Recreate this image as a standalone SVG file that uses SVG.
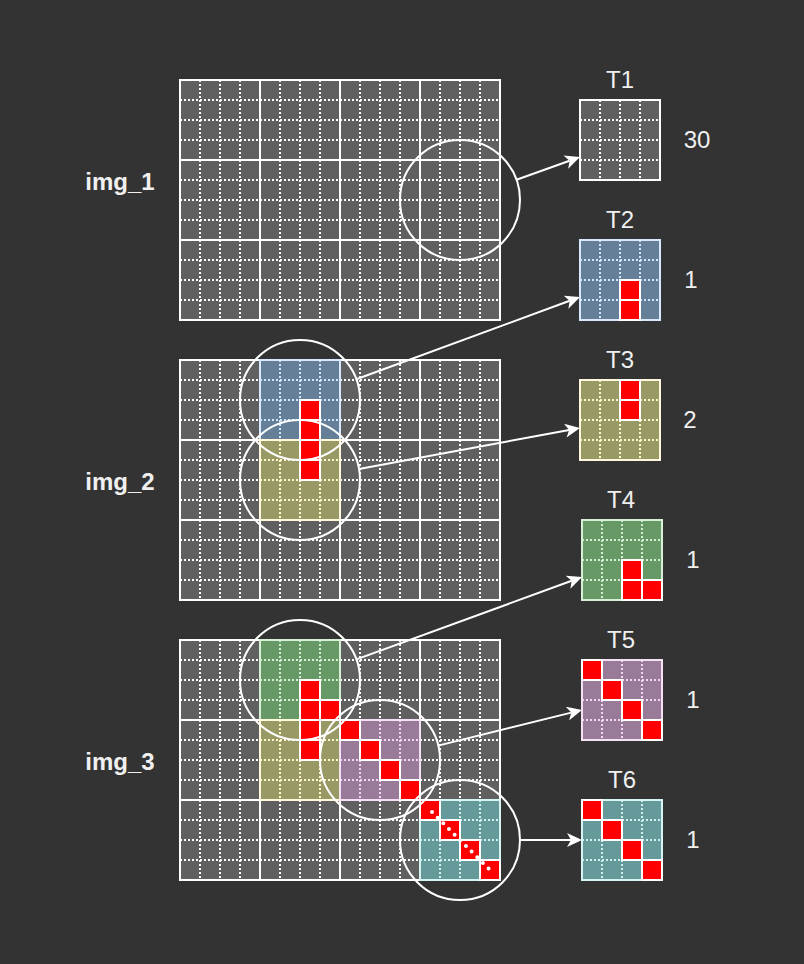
<svg xmlns="http://www.w3.org/2000/svg" xmlns:xlink="http://www.w3.org/1999/xlink" width="804" height="964" viewBox="0 0 804 964">
<style>
.dot{fill:none;stroke-width:2;stroke-dasharray:2 2}
.bd{fill:none;stroke-width:2}
.lbl{font-family:"Liberation Sans",Arial,Helvetica,sans-serif;font-size:24px;fill:#f0f0f0;text-anchor:middle}
.b{font-weight:bold}
.cir{fill:none;stroke:#fff;stroke-width:2}
.red{fill:#ff0000;stroke:#fff;stroke-width:2}
.edge{fill:none;stroke:#fff;stroke-width:2;marker-end:url(#arr)}
.diag{fill:none;stroke:#fff;stroke-width:4;stroke-linecap:round;stroke-dasharray:0 8}
</style>
<defs>
<marker id="arr" markerUnits="userSpaceOnUse" markerWidth="15" markerHeight="14" viewBox="0 0 15 14" refX="4" refY="7" orient="auto">
<path d="M0,0L15,7L0,14L4,7Z" fill="#fff"/>
</marker>
<path id="gl" d="M20,0V80M40,0V80M60,0V80M0,20H80M0,40H80M0,60H80"/>
<g id="t-grey"><rect width="80" height="80" fill="#606060"/><use xlink:href="#gl" class="dot" stroke="#ffffff"/><rect width="80" height="80" class="bd" stroke="#ffffff"/></g>
<g id="t-blue"><rect width="80" height="80" fill="#657f99"/><use xlink:href="#gl" class="dot" stroke="#d4e6fb"/><rect width="80" height="80" class="bd" stroke="#dae8fc"/></g>
<g id="t-yellow"><rect width="80" height="80" fill="#999966"/><use xlink:href="#gl" class="dot" stroke="#fff6d0"/><rect width="80" height="80" class="bd" stroke="#fff8dc"/></g>
<g id="t-green"><rect width="80" height="80" fill="#669966"/><use xlink:href="#gl" class="dot" stroke="#d5efd4"/><rect width="80" height="80" class="bd" stroke="#d8f0d6"/></g>
<g id="t-purple"><rect width="80" height="80" fill="#997a99"/><use xlink:href="#gl" class="dot" stroke="#f4d8f2"/><rect width="80" height="80" class="bd" stroke="#f6e0f4"/></g>
<g id="t-teal"><rect width="80" height="80" fill="#669999"/><use xlink:href="#gl" class="dot" stroke="#cff2f2"/><rect width="80" height="80" class="bd" stroke="#d6f4f4"/></g>
<rect id="rc" width="20" height="20"/>
</defs>
<rect width="804" height="964" fill="#333333"/>

<g id="img_1-grid">
<use xlink:href="#t-grey" x="180" y="80"/><use xlink:href="#t-grey" x="260" y="80"/><use xlink:href="#t-grey" x="340" y="80"/><use xlink:href="#t-grey" x="420" y="80"/>
<use xlink:href="#t-grey" x="180" y="160"/><use xlink:href="#t-grey" x="260" y="160"/><use xlink:href="#t-grey" x="340" y="160"/><use xlink:href="#t-grey" x="420" y="160"/>
<use xlink:href="#t-grey" x="180" y="240"/><use xlink:href="#t-grey" x="260" y="240"/><use xlink:href="#t-grey" x="340" y="240"/><use xlink:href="#t-grey" x="420" y="240"/>
</g>

<g id="img_2-grid">
<use xlink:href="#t-grey" x="180" y="360"/><use xlink:href="#t-grey" x="340" y="360"/><use xlink:href="#t-grey" x="420" y="360"/>
<use xlink:href="#t-grey" x="180" y="440"/><use xlink:href="#t-grey" x="340" y="440"/><use xlink:href="#t-grey" x="420" y="440"/>
<use xlink:href="#t-grey" x="180" y="520"/><use xlink:href="#t-grey" x="260" y="520"/><use xlink:href="#t-grey" x="340" y="520"/><use xlink:href="#t-grey" x="420" y="520"/>
<use xlink:href="#t-blue" x="260" y="360"/>
<use xlink:href="#t-yellow" x="260" y="440"/>
<g class="red">
<use xlink:href="#rc" x="300" y="400"/><use xlink:href="#rc" x="300" y="420"/><use xlink:href="#rc" x="300" y="440"/><use xlink:href="#rc" x="300" y="460"/>
</g>
</g>

<g id="img_3-grid">
<use xlink:href="#t-grey" x="180" y="640"/><use xlink:href="#t-grey" x="340" y="640"/><use xlink:href="#t-grey" x="420" y="640"/>
<use xlink:href="#t-grey" x="180" y="720"/><use xlink:href="#t-grey" x="420" y="720"/>
<use xlink:href="#t-grey" x="180" y="800"/><use xlink:href="#t-grey" x="260" y="800"/><use xlink:href="#t-grey" x="340" y="800"/>
<use xlink:href="#t-green" x="260" y="640"/>
<use xlink:href="#t-yellow" x="260" y="720"/>
<use xlink:href="#t-purple" x="340" y="720"/>
<use xlink:href="#t-teal" x="420" y="800"/>
<g class="red">
<use xlink:href="#rc" x="300" y="680"/><use xlink:href="#rc" x="300" y="700"/><use xlink:href="#rc" x="320" y="700"/><use xlink:href="#rc" x="300" y="720"/><use xlink:href="#rc" x="300" y="740"/>
<use xlink:href="#rc" x="340" y="720"/><use xlink:href="#rc" x="360" y="740"/><use xlink:href="#rc" x="380" y="760"/><use xlink:href="#rc" x="400" y="780"/>
<use xlink:href="#rc" x="420" y="800"/><use xlink:href="#rc" x="440" y="820"/><use xlink:href="#rc" x="460" y="840"/><use xlink:href="#rc" x="480" y="860"/>
</g>
<line class="diag" x1="432" y1="812" x2="489" y2="869"/>
</g>

<g id="circle-1"><circle class="cir" cx="460" cy="200" r="60"/></g>
<g id="circle-2"><circle class="cir" cx="300" cy="400" r="60"/></g>
<g id="circle-3"><circle class="cir" cx="300" cy="480" r="60"/></g>
<g id="circle-4"><circle class="cir" cx="300" cy="680" r="60"/></g>
<g id="circle-5"><circle class="cir" cx="380" cy="760" r="60"/></g>
<g id="circle-6"><circle class="cir" cx="460" cy="840" r="60"/></g>

<g id="connectors">
<line class="edge" x1="516.5" y1="179.8" x2="569.6" y2="160.7"/>
<line class="edge" x1="356.3" y1="379.3" x2="569.7" y2="300.8"/>
<line class="edge" x1="359" y1="469" x2="569.2" y2="430"/>
<line class="edge" x1="356.4" y1="659.4" x2="571.7" y2="580.8"/>
<line class="edge" x1="438.2" y1="745.6" x2="571.3" y2="712.6"/>
<line class="edge" x1="520" y1="840" x2="571" y2="840"/>
</g>

<g id="T1"><use xlink:href="#t-grey" x="580" y="100"/><text class="lbl" x="620" y="88">T1</text><text class="lbl" x="697" y="148">30</text></g>
<g id="T2"><use xlink:href="#t-blue" x="580" y="240"/><g class="red"><use xlink:href="#rc" x="620" y="280"/><use xlink:href="#rc" x="620" y="300"/></g><text class="lbl" x="620" y="228">T2</text><text class="lbl" x="691" y="288">1</text></g>
<g id="T3"><use xlink:href="#t-yellow" x="580" y="380"/><g class="red"><use xlink:href="#rc" x="620" y="380"/><use xlink:href="#rc" x="620" y="400"/></g><text class="lbl" x="620" y="368">T3</text><text class="lbl" x="690" y="428">2</text></g>
<g id="T4"><use xlink:href="#t-green" x="582" y="520"/><g class="red"><use xlink:href="#rc" x="622" y="560"/><use xlink:href="#rc" x="622" y="580"/><use xlink:href="#rc" x="642" y="580"/></g><text class="lbl" x="621" y="508">T4</text><text class="lbl" x="693" y="568">1</text></g>
<g id="T5"><use xlink:href="#t-purple" x="582" y="660"/><g class="red"><use xlink:href="#rc" x="582" y="660"/><use xlink:href="#rc" x="602" y="680"/><use xlink:href="#rc" x="622" y="700"/><use xlink:href="#rc" x="642" y="720"/></g><text class="lbl" x="621" y="648">T5</text><text class="lbl" x="693" y="708">1</text></g>
<g id="T6"><use xlink:href="#t-teal" x="582" y="800"/><g class="red"><use xlink:href="#rc" x="582" y="800"/><use xlink:href="#rc" x="602" y="820"/><use xlink:href="#rc" x="622" y="840"/><use xlink:href="#rc" x="642" y="860"/></g><text class="lbl" x="622" y="788">T6</text><text class="lbl" x="693" y="848">1</text></g>

<g id="label-img_1"><text class="lbl b" x="120" y="190">img_1</text></g>
<g id="label-img_2"><text class="lbl b" x="120" y="490">img_2</text></g>
<g id="label-img_3"><text class="lbl b" x="120" y="770">img_3</text></g>
</svg>
